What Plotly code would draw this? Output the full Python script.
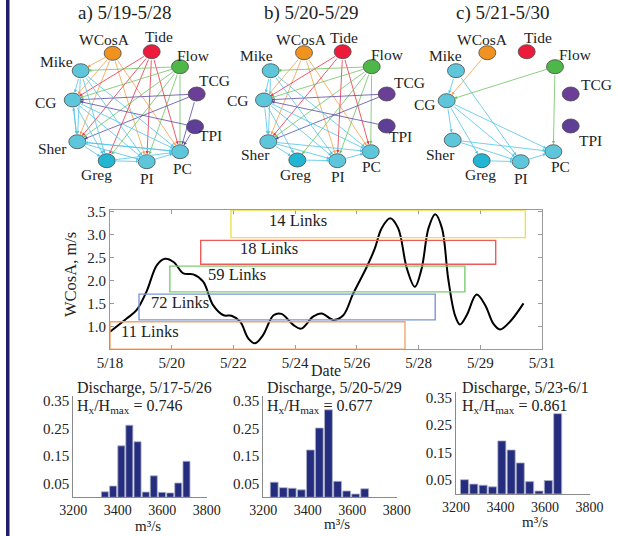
import plotly.graph_objects as go

W, H = 618, 536
SERIF = "Liberation Serif, Times New Roman, serif"

# ---------------- network panels (pixel canvas) ----------------
node_names = ["WCosA", "Tide", "Flow", "TCG", "TPI", "PC", "PI", "Greg", "Sher", "CG", "Mike"]
node_fill = {"WCosA": "#EF9220", "Tide": "#EC1B3B", "Flow": "#4DB748", "TCG": "#6B3F98",
             "TPI": "#5F3E97", "PC": "#5EC6DA", "PI": "#5EC6DA", "Greg": "#22B6D3",
             "Sher": "#5EC6DA", "CG": "#5EC6DA", "Mike": "#5EC6DA"}
edge_color = {"WCosA": "#F7A04B", "Tide": "#EE2F45", "Flow": "#6CC35F", "TCG": "#5A4AA8",
              "TPI": "#5A4AA8"}
edge_default = "#4EC4E8"

panel_titles = ["a) 5/19-5/28", "b) 5/20-5/29", "c) 5/21-5/30"]
panel_title_x = [124, 311, 502]

node_x = [
    [112.7, 151.7, 180.0, 196.7, 195.0, 180.0, 146.7, 106.7, 77.3, 72.7, 80.7],
    [304.0, 342.7, 371.7, 386.7, 386.7, 370.7, 337.3, 297.3, 268.3, 264.0, 270.7],
    [487.3, 526.7, 555.0, 570.7, 570.7, 553.3, 520.7, 481.7, 452.7, 446.7, 456.0],
]
node_y = [
    [53.3, 51.7, 66.7, 94.0, 126.7, 151.7, 161.7, 160.7, 141.7, 100.0, 70.7],
    [52.7, 51.7, 66.7, 94.0, 126.0, 151.7, 160.7, 160.0, 141.7, 100.0, 70.7],
    [52.7, 51.7, 66.7, 94.0, 126.0, 151.7, 161.7, 160.7, 140.0, 100.7, 70.7],
]
label_x = [
    [104.0, 159.2, 193.3, 214.0, 210.5, 182.5, 147.0, 96.0, 52.5, 45.8, 56.0],
    [301.0, 344.0, 387.3, 409.0, 400.0, 371.7, 337.5, 295.0, 255.8, 238.3, 256.0],
    [482.5, 538.3, 575.0, 596.7, 590.0, 560.0, 520.8, 480.0, 440.0, 425.0, 445.0],
]
label_y = [
    [39.0, 36.5, 55.8, 80.0, 135.0, 168.3, 178.3, 174.0, 148.0, 102.5, 61.7],
    [39.0, 37.5, 54.0, 82.0, 136.0, 166.7, 176.7, 174.0, 154.0, 100.8, 55.8],
    [39.0, 37.5, 54.0, 84.0, 140.8, 166.7, 178.3, 174.0, 154.0, 104.0, 55.8],
]

edges = [
    [("WCosA", "Mike"), ("WCosA", "CG"), ("WCosA", "Sher"), ("WCosA", "PI"), ("WCosA", "PC"),
     ("Tide", "CG"), ("Tide", "Sher"), ("Tide", "Greg"), ("Tide", "PI"), ("Tide", "PC"),
     ("Flow", "Mike"), ("Flow", "CG"), ("Flow", "Sher"), ("Flow", "Greg"), ("Flow", "PI"), ("Flow", "PC"),
     ("TCG", "CG"), ("TCG", "Sher"), ("TCG", "PC"), ("TPI", "CG"), ("TPI", "PC"),
     ("Mike", "CG"), ("Mike", "Sher"), ("Mike", "Greg"), ("Mike", "PI"), ("Mike", "PC"),
     ("CG", "Sher"), ("CG", "Greg"), ("CG", "PI"), ("CG", "PC"),
     ("Sher", "Greg"), ("Sher", "PI"), ("Sher", "PC"),
     ("Greg", "PI"), ("Greg", "PC"), ("PI", "PC"), ("PC", "Sher"), ("Sher", "CG")],
    [("WCosA", "CG"), ("WCosA", "Sher"), ("WCosA", "PI"), ("WCosA", "PC"),
     ("Tide", "CG"), ("Tide", "Sher"), ("Tide", "PI"), ("Tide", "PC"),
     ("Flow", "Mike"), ("Flow", "CG"), ("Flow", "Sher"), ("Flow", "Greg"), ("Flow", "PI"), ("Flow", "PC"),
     ("TCG", "CG"), ("TCG", "Sher"), ("TPI", "CG"),
     ("Mike", "CG"), ("Mike", "Sher"), ("Mike", "PI"), ("Mike", "PC"),
     ("CG", "Sher"), ("CG", "Greg"), ("CG", "PI"), ("CG", "PC"),
     ("Sher", "Greg"), ("Sher", "PI"), ("Sher", "PC"),
     ("Greg", "PI"), ("PI", "PC")],
    [("WCosA", "CG"), ("Flow", "CG"), ("Flow", "PC"),
     ("Mike", "CG"), ("Mike", "PI"),
     ("CG", "Sher"), ("CG", "Greg"), ("CG", "PI"), ("CG", "PC"),
     ("Sher", "PI"), ("Sher", "PC"), ("Greg", "PI"), ("PI", "PC")],
]

# ---------------- WCosA time series ----------------
date_ticks = ["5/18", "5/20", "5/22", "5/24", "5/26", "5/28", "5/29", "5/31"]
t = [0.0, 0.27, 0.43, 0.59, 0.76, 0.89, 1.03, 1.19, 1.35, 1.51, 1.67, 1.84, 1.97, 2.11, 2.24,
     2.35, 2.48, 2.65, 2.78, 2.97, 3.10, 3.29, 3.43, 3.62, 3.78, 3.94, 4.16, 4.29, 4.40, 4.54,
     4.67, 4.81, 4.94, 5.05, 5.16, 5.27, 5.38, 5.48, 5.59, 5.67, 5.78, 5.94, 6.08, 6.21, 6.32,
     6.48, 6.70]
wcosa = [0.89, 1.18, 1.36, 1.76, 2.34, 2.48, 2.41, 2.16, 2.14, 1.98, 1.47, 1.25, 1.24, 1.11,
         0.75, 0.64, 0.82, 1.25, 1.28, 1.04, 0.96, 1.22, 1.29, 1.15, 1.25, 1.72, 2.30, 2.70,
         3.14, 3.36, 3.14, 2.27, 1.87, 2.27, 3.14, 3.45, 3.14, 2.05, 1.25, 1.05, 1.25, 1.70,
         1.47, 1.07, 0.94, 1.11, 1.51]

win_labels = ["11 Links", "72 Links", "59 Links", "18 Links", "14 Links"]
win_start = [0.0, 0.47, 0.97, 1.47, 1.96]
win_end = [4.78, 5.27, 5.75, 6.25, 6.73]
win_low = [0.51, 1.15, 1.76, 2.36, 2.94]
win_high = [1.11, 1.71, 2.32, 2.88, 3.54]
win_colors = ["#F5A566", "#7B95D6", "#7CCB74", "#EE5A5A", "#EEE04A"]
win_label_t = [0.65, 1.13, 2.05, 2.57, 3.05]
win_label_v = [0.89, 1.53, 2.14, 2.70, 3.32]

# ---------------- discharge histograms ----------------
hist_titles = ["Discharge, 5/17-5/26", "Discharge, 5/20-5/29", "Discharge, 5/23-6/1"]
hist_ratio = ["0.746", "0.677", "0.861"]
hist_centers = [
    [3342, 3379, 3416, 3452, 3489, 3526, 3562, 3599, 3636, 3672, 3709],
    [3249, 3290, 3330, 3371, 3412, 3452, 3493, 3534, 3575, 3615, 3656],
    [3238, 3280, 3322, 3364, 3406, 3448, 3489, 3531, 3573, 3615, 3657],
]
hist_prob = [
    [0.020, 0.041, 0.187, 0.262, 0.202, 0.019, 0.078, 0.018, 0.016, 0.052, 0.131],
    [0.055, 0.035, 0.033, 0.027, 0.172, 0.252, 0.318, 0.058, 0.023, 0.012, 0.031],
    [0.052, 0.036, 0.032, 0.026, 0.193, 0.160, 0.113, 0.045, 0.011, 0.049, 0.292],
]

fig = go.Figure()

# main series
fig.add_trace(go.Scatter(x=t, y=wcosa, mode="lines", xaxis="x", yaxis="y",
                         line=dict(color="black", width=2.0, shape="spline", smoothing=1.0),
                         showlegend=False, hoverinfo="skip"))

# histograms
for i in range(3):
    fig.add_trace(go.Bar(x=hist_centers[i], y=hist_prob[i], xaxis=f"x{i+2}", yaxis=f"y{i+2}",
                         marker=dict(color="#252E7E", line=dict(color="#aeb1c8", width=0.8)),
                         showlegend=False, hoverinfo="skip"))

# invisible trace to activate the canvas axis
fig.add_trace(go.Scatter(x=[0, W], y=[0, H], mode="markers", marker=dict(opacity=0),
                         xaxis="x5", yaxis="y5", showlegend=False, hoverinfo="skip"))

shapes = []
annotations = []

# left decorative bar
shapes.append(dict(type="rect", xref="paper", yref="paper", x0=6 / W, x1=9.5 / W, y0=0, y1=1,
                   fillcolor="#1f1f6b", line=dict(width=0), layer="above"))

# window boxes
for i in range(len(win_labels)):
    shapes.append(dict(type="rect", xref="x", yref="y", x0=win_start[i], x1=win_end[i],
                       y0=win_low[i], y1=win_high[i], line=dict(color=win_colors[i], width=1.4),
                       fillcolor="rgba(0,0,0,0)", layer="above"))
    annotations.append(dict(x=win_label_t[i], y=win_label_v[i], xref="x", yref="y",
                            text=win_labels[i], showarrow=False,
                            font=dict(family=SERIF, size=16.5, color="#222")))

# networks
for p in range(3):
    pos = {n: (node_x[p][k], node_y[p][k]) for k, n in enumerate(node_names)}
    for (s, d) in edges[p]:
        sx, sy = pos[s]
        dx, dy = pos[d]
        annotations.append(dict(x=dx, y=dy, ax=sx, ay=sy, xref="x5", yref="y5",
                                axref="x5", ayref="y5", text="", showarrow=True,
                                arrowhead=2, arrowsize=0.8, arrowwidth=0.8,
                                arrowcolor=edge_color.get(s, edge_default),
                                standoff=7.5, startstandoff=7))
    for k, n in enumerate(node_names):
        cx, cy = pos[n]
        shapes.append(dict(type="circle", xref="x5", yref="y5", x0=cx - 8.5, x1=cx + 8.5,
                           y0=cy - 7, y1=cy + 7, fillcolor=node_fill[n],
                           line=dict(color="#4a4a4a", width=0.8), layer="above"))
        annotations.append(dict(x=label_x[p][k], y=label_y[p][k], xref="x5", yref="y5",
                                text=n, showarrow=False,
                                font=dict(family=SERIF, size=15.5, color="#222")))
    annotations.append(dict(x=panel_title_x[p], y=12.5, xref="x5", yref="y5",
                            text=panel_titles[p], showarrow=False,
                            font=dict(family=SERIF, size=19, color="#222")))

# histogram texts
hist_text_x = [75, 265, 460]
hist_unit_x = [148, 337, 535]
hist_unit_y = [526, 524, 522]
for i in range(3):
    annotations.append(dict(x=hist_text_x[i], y=387.5, xref="x5", yref="y5", xanchor="left",
                            text=hist_titles[i], showarrow=False,
                            font=dict(family=SERIF, size=16, color="#222")))
    annotations.append(dict(x=hist_text_x[i], y=406, xref="x5", yref="y5", xanchor="left",
                            text="H<sub>x</sub>/H<sub>max</sub> = " + hist_ratio[i],
                            showarrow=False, font=dict(family=SERIF, size=16, color="#222")))
    annotations.append(dict(x=hist_unit_x[i], y=hist_unit_y[i], xref="x5", yref="y5",
                            text="m³/s", showarrow=False,
                            font=dict(family=SERIF, size=15, color="#222")))

# main axis titles
annotations.append(dict(x=326, y=370, xref="x5", yref="y5", text="Date", showarrow=False,
                        font=dict(family=SERIF, size=16, color="#222")))
annotations.append(dict(x=70, y=275, xref="x5", yref="y5", text="WCosA, m/s", textangle=-90,
                        showarrow=False, font=dict(family=SERIF, size=16.5, color="#222")))

tickfont = dict(family=SERIF, size=15, color="#222")
histtickfont = dict(family=SERIF, size=14, color="#222")
layout = dict(
    width=W, height=H, margin=dict(l=0, r=0, t=0, b=0, autoexpand=False),
    paper_bgcolor="white", plot_bgcolor="rgba(0,0,0,0)",
    shapes=shapes, annotations=annotations, bargap=0.12, showlegend=False,
    xaxis=dict(domain=[110 / W, 542 / W], range=[0, 7], tickvals=list(range(len(date_ticks))),
               ticktext=date_ticks, showline=True, linecolor="#9a9a9a", linewidth=1, mirror="ticks",
               ticks="inside", ticklen=4, tickcolor="#9a9a9a", showgrid=False, zeroline=False,
               tickfont=tickfont, anchor="y", automargin=False),
    yaxis=dict(domain=[(H - 349.3) / H, (H - 210) / H], range=[0.51, 3.54],
               tickvals=[1.0, 1.5, 2.0, 2.5, 3.0, 3.5], tickformat=".1f",
               showline=True, linecolor="#9a9a9a", linewidth=1, mirror="ticks",
               ticks="inside", ticklen=4, tickcolor="#9a9a9a", showgrid=False, zeroline=False,
               tickfont=tickfont, anchor="x", automargin=False),
    xaxis5=dict(domain=[0, 1], range=[0, W], visible=False, anchor="y5", fixedrange=True,
                automargin=False),
    yaxis5=dict(domain=[0, 1], range=[H, 0], visible=False, anchor="x5", fixedrange=True,
                automargin=False),
)
hist_x_dom = [(73.3, 206.7), (263.3, 396.7), (456.0, 589.5)]
hist_y_bottom = [497.3, 497.3, 494.0]
for i in range(3):
    xa = dict(domain=[hist_x_dom[i][0] / W, hist_x_dom[i][1] / W], range=[3200, 3800],
              tickvals=[3200, 3400, 3600, 3800], showline=True, linecolor="#8a8a8a",
              linewidth=1, ticks="", showgrid=False, zeroline=False, tickfont=histtickfont,
              anchor=f"y{i+2}", automargin=False)
    yb = hist_y_bottom[i]
    ya = dict(domain=[(H - yb) / H, (H - (yb - 101.8)) / H], range=[0, 0.37],
              tickvals=[0.05, 0.15, 0.25, 0.35], tickformat=".2f", showline=True,
              linecolor="#8a8a8a", linewidth=1, ticks="", showgrid=False, zeroline=False,
              tickfont=tickfont, anchor=f"x{i+2}", automargin=False)
    layout[f"xaxis{i+2}"] = xa
    layout[f"yaxis{i+2}"] = ya

fig.update_layout(**layout)
fig.write_html("out.html")
